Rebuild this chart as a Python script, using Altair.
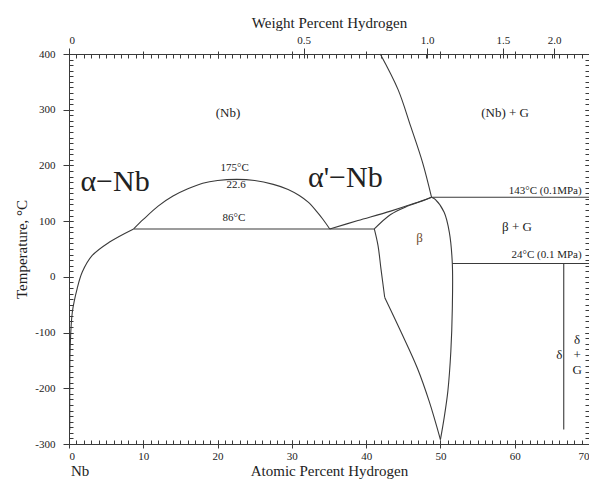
import altair as alt
import pandas as pd

# ---------------- data (atomic % H, temperature in C) ----------------
solvus_at = [0.1, 0.1, 0.15, 0.45, 1.1, 1.8, 3.1, 5.4, 8.7]
solvus_T = [-275, -200, -130, -63, -21, 9, 38, 62, 86]

dome_at = [8.7, 10, 12, 14, 16, 18, 20, 22.6, 25, 27.5, 29.5, 31, 32.2, 33.3, 34.2, 35.1]
dome_T = [86, 103, 127, 145, 158, 168, 173, 175, 173, 166, 157, 146, 134, 118, 103, 86]

eut86_at = [8.7, 41.1]
eut86_T = [86, 86]

aprime_at = [35.1, 38.9, 43.3, 46.5, 48.8]
aprime_T = [86, 101, 118, 132, 143]

beta_top_at = [41.1, 43.3, 45.6, 47.9, 48.8]
beta_top_T = [86, 112, 127, 138, 143]

nbgas_at = [41.9, 44.3, 46.0, 47.6, 48.8]
nbgas_T = [400, 336, 270, 205, 143]

line143_at = [48.8, 70]
line143_T = [143, 143]

beta_right_at = [48.8, 49.3, 50.5, 51.2, 51.6, 51.6, 51.4, 51.0, 50.5, 50.0]
beta_right_T = [143, 139, 116, 80, 24, -57, -134, -205, -253, -292]

beta_left_up_at = [41.1, 41.6, 42.0, 42.5]
beta_left_up_T = [86, 56, 14, -37]

beta_left_low_at = [42.5, 44.7, 46.9, 48.5, 50.0]
beta_left_low_T = [-37, -99, -164, -224, -292]

line24_at = [51.6, 70]
line24_T = [24, 24]

delta_at = [66.6, 66.6]
delta_T = [24, -274]

# region / annotation labels
big_text = ["\u03b1\u2212Nb", "\u03b1'\u2212Nb"]
big_at = [6.2, 37.2]
big_T = [171, 177]

mid_text = ["(Nb)", "(Nb) + G", "\u03b2 + G", "\u03b4", "\u03b4", "+", "G"]
mid_at = [21.4, 58.7, 60.3, 66.0, 68.4, 68.4, 68.4]
mid_T = [295, 295, 89, -141, -114, -141, -168]

small_text = ["175\u00b0C", "22.6", "86\u00b0C"]
small_at = [22.3, 22.5, 22.2]
small_T = [195, 164, 105]

right_text = ["143\u00b0C (0.1MPa)", "24\u00b0C (0.1 MPa)"]
right_at = [69.0, 69.0]
right_T = [154, 39]

beta_text = ["\u03b2"]
beta_at = [47.2]
beta_T = [70]

nb_text = ["Nb"]
nb_at = [1.5]
nb_T = [-349]

# axis ticks
at_major = list(range(0, 71, 10))
at_minor = list(range(0, 71, 1))
T_major = list(range(-300, 401, 100))
T_minor = list(range(-300, 401, 10))

# top axis (weight percent H placed at its atomic percent)
wt_labels = ["0", "0.5", "1.0", "1.5", "2.0"]
wt_at_pos = [0, 31.6, 48.2, 58.4, 65.3]

# ---------------- build tables ----------------
segments = {
    "solvus": (solvus_at, solvus_T),
    "dome": (dome_at, dome_T),
    "eut86": (eut86_at, eut86_T),
    "aprime": (aprime_at, aprime_T),
    "beta_top": (beta_top_at, beta_top_T),
    "nbgas": (nbgas_at, nbgas_T),
    "line143": (line143_at, line143_T),
    "beta_right": (beta_right_at, beta_right_T),
    "beta_left_up": (beta_left_up_at, beta_left_up_T),
    "beta_left_low": (beta_left_low_at, beta_left_low_T),
    "line24": (line24_at, line24_T),
    "delta": (delta_at, delta_T),
}
rows = []
for name, (xs_, ys_) in segments.items():
    for i, (a, t) in enumerate(zip(xs_, ys_)):
        rows.append({"seg": name, "at": a, "T": t, "i": i})
lines_df = pd.DataFrame(rows)


def tdf(texts, ats, Ts):
    return pd.DataFrame({"label": texts, "at": ats, "T": Ts})


FONT = "Liberation Serif"
LINE = "#3a3a3a"
TXT = "#222222"

xscale = alt.Scale(domain=[0, 70], nice=False, zero=False)
yscale = alt.Scale(domain=[-300, 400], nice=False, zero=False)

common = dict(offset=-4, domain=False, grid=False, labelOverlap=False,
              tickColor=LINE, labelColor=TXT, labelFont=FONT, labelFontSize=11,
              titleFont=FONT, titleFontSize=15, titleFontWeight="normal",
              titleColor=TXT)

x_bottom_major = alt.Axis(orient="bottom", values=at_major, format="d",
                          labelExpr="'' + datum.value", tickSize=8,
                          labelPadding=2, title="Atomic Percent Hydrogen",
                          titlePadding=2, **common)
y_left_major = alt.Axis(orient="left", values=T_major,
                        labelExpr="'' + datum.value", tickSize=10,
                        labelPadding=8, title="Temperature, \u00b0C",
                        titlePadding=5, **common)
x_bottom_minor = alt.Axis(orient="bottom", values=at_minor, tickSize=4,
                          labels=False, title=None, **common)
y_left_minor = alt.Axis(orient="left", values=T_minor, tickSize=4,
                        labels=False, title=None, **common)
x_top_minor = alt.Axis(orient="top", values=at_minor, tickSize=4,
                       labels=False, title=None, **common)
y_right_minor = alt.Axis(orient="right", values=T_minor, tickSize=4,
                         labels=False, title=None, **common)
x_top_at_major = alt.Axis(orient="top", values=at_major, tickSize=7,
                          labels=False, title=None, **common)
y_right_major = alt.Axis(orient="right", values=T_major, tickSize=8,
                         labels=False, title=None, **common)

wt_expr = "''"
for v, lab in reversed(list(zip(wt_at_pos, wt_labels))):
    wt_expr = "datum.value === %s ? '%s' : (%s)" % (v, lab, wt_expr)
x_top_wt = alt.Axis(orient="top", values=wt_at_pos, labelExpr=wt_expr,
                    tickSize=10, labelPadding=3, title="Weight Percent Hydrogen",
                    titlePadding=4, **common)

Xn = alt.X("at:Q", scale=xscale)
Yn = alt.Y("T:Q", scale=yscale)

lines = alt.Chart(lines_df).mark_line(
    color=LINE, strokeWidth=1.1, interpolate="catmull-rom"
).encode(
    x=alt.X("at:Q", scale=xscale, axis=x_bottom_major),
    y=alt.Y("T:Q", scale=yscale, axis=y_left_major),
    detail="seg:N", order="i:Q",
)


def text_layer(df, size, align="center", color=TXT):
    return alt.Chart(df).mark_text(
        font=FONT, fontSize=size, align=align, baseline="middle", color=color
    ).encode(x=Xn, y=Yn, text="label:N")


inner = alt.layer(
    lines,
    text_layer(tdf(big_text, big_at, big_T), 30),
    text_layer(tdf(mid_text, mid_at, mid_T), 13),
    text_layer(tdf(small_text, small_at, small_T), 11),
    text_layer(tdf(right_text, right_at, right_T), 11, align="right"),
    text_layer(tdf(beta_text, beta_at, beta_T), 13, color="#6e4b2e"),
    text_layer(tdf(nb_text, nb_at, nb_T), 15),
)

anchor = pd.DataFrame({"at": [0], "T": [0]})


def axis_layer(xaxis, yaxis=None):
    enc = {"x": alt.X("at:Q", scale=xscale, axis=xaxis)}
    if yaxis is not None:
        enc["y"] = alt.Y("T:Q", scale=yscale, axis=yaxis)
    return alt.Chart(anchor).mark_point(opacity=0).encode(**enc)


chart = (
    alt.layer(
        inner,
        axis_layer(x_bottom_minor, y_left_minor),
        axis_layer(x_top_minor, y_right_minor),
        axis_layer(x_top_wt, y_right_major),
        axis_layer(x_top_at_major),
    )
    .resolve_scale(x="independent", y="independent")
    .resolve_axis(x="independent", y="independent")
    .properties(
        width=520, height=390,
        autosize=alt.AutoSizeParams(type="none"),
        padding={"left": 61, "top": 46, "right": 0, "bottom": 36},
        background="white",
    )
    .configure_view(stroke=LINE, strokeWidth=1)
)

chart.save("out.html", embed_options={"renderer": "svg", "actions": False})
